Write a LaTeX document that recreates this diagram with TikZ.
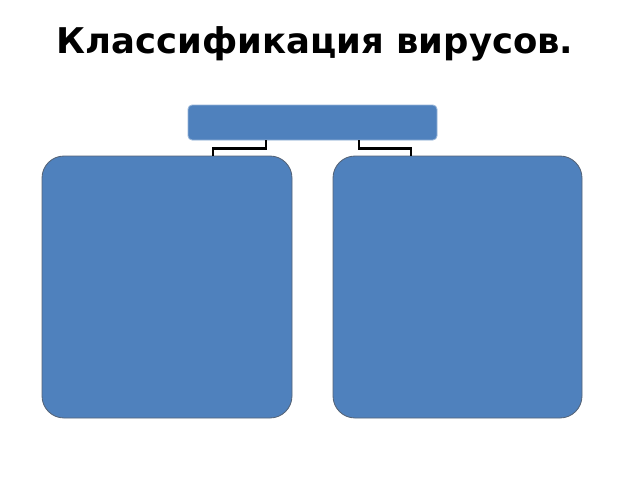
\documentclass[tikz,border=0pt]{standalone}
\usepackage{fontspec}
\setmainfont{DejaVu Sans}
\usepackage{tikz}
\usetikzlibrary{positioning, calc}
\definecolor{officeblue}{RGB}{79,129,189}
\definecolor{boxedge}{RGB}{85,100,120}

\begin{document}
\begin{tikzpicture}[
    x=0.025cm, y=-0.025cm,
    bluebox/.style={fill=officeblue, draw=boxedge, line width=0.6pt, inner sep=0pt},
    linker/.style={draw=black, line width=1.6pt}
]

% Frame
\useasboundingbox (0,0) rectangle (640,480);

% Title
\node[font=\bfseries\fontsize{25.2}{30}\selectfont] (title) at (315,44) {Классификация вирусов.};

% Top box
\node[bluebox, draw=officeblue!60!white, rounded corners=3pt, minimum width=249*0.025cm, minimum height=35*0.025cm] (top) at (312.5,122.5) {};

% Two lower boxes
\node[bluebox, rounded corners=0.55cm, minimum width=250*0.025cm, minimum height=262*0.025cm] (leftbox) at (167,287) {};
\node[bluebox, rounded corners=0.55cm, minimum width=249*0.025cm, minimum height=262*0.025cm] (rightbox) at (457.5,287) {};

% Connectors
\draw[linker] ($(top.south)+(-46.5,0)$) -- ++(0,8) -| ($(leftbox.north)+(46,0)$);
\draw[linker] ($(top.south)+(46.5,0)$) -- ++(0,8) -| ($(rightbox.north)+(-46.5,0)$);

\end{tikzpicture}
\end{document}
